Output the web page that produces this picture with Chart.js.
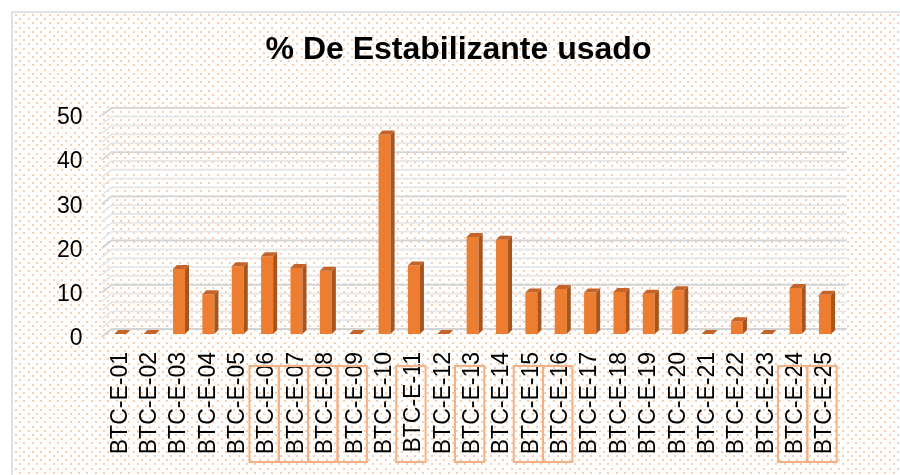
<!DOCTYPE html>
<html>
<head>
<meta charset="utf-8">
<script src="https://cdn.jsdelivr.net/npm/chart.js@4.4.0/dist/chart.umd.min.js"></script>
<style>
  html, body { margin: 0; padding: 0; background: #fff; }
</style>
</head>
<body>
<canvas id="stabChart" width="900" height="475"></canvas>
<script>
const labels = [
  'BTC-E-01', 'BTC-E-02', 'BTC-E-03', 'BTC-E-04', 'BTC-E-05',
  'BTC-E-06', 'BTC-E-07', 'BTC-E-08', 'BTC-E-09', 'BTC-E-10',
  'BTC-E-11', 'BTC-E-12', 'BTC-E-13', 'BTC-E-14', 'BTC-E-15',
  'BTC-E-16', 'BTC-E-17', 'BTC-E-18', 'BTC-E-19', 'BTC-E-20',
  'BTC-E-21', 'BTC-E-22', 'BTC-E-23', 'BTC-E-24', 'BTC-E-25'
];
const stabilizer = [
  0, 0, 14.7, 9.0, 15.3,
  17.6, 14.9, 14.3, 0, 45.1,
  15.5, 0, 21.9, 21.3, 9.4,
  10.2, 9.4, 9.5, 9.1, 9.9,
  0, 2.9, 0, 10.4, 8.9
];
const yTicks = [0, 10, 20, 30, 40, 50];
// samples boxed under the axis
const marked = [
  'BTC-E-06', 'BTC-E-07', 'BTC-E-08', 'BTC-E-09', 'BTC-E-11',
  'BTC-E-13', 'BTC-E-15', 'BTC-E-16', 'BTC-E-24', 'BTC-E-25'
];

Chart.defaults.font.family = "'Liberation Sans', Arial, sans-serif";

// dotted pattern fill + thin frame
const dottedBg = {
  id: 'dottedBg',
  beforeDraw(chart) {
    const { ctx, width, height } = chart;
    ctx.save();
    ctx.fillStyle = '#fff';
    ctx.fillRect(0, 0, width, height);
    ctx.fillStyle = '#F9CFB2';
    let row = 0;
    for (let y = 15; y < height; y += 4.2, row++) {
      for (let x = 16 + (row % 2) * 4.2; x < width; x += 8.4) {
        ctx.fillRect(Math.round(x) - 1, Math.round(y) - 1, 2, 2);
      }
    }
    ctx.strokeStyle = '#D9D9D9';
    ctx.lineWidth = 1.5;
    ctx.beginPath();
    ctx.moveTo(12, height + 2);
    ctx.lineTo(12, 12);
    ctx.lineTo(width + 2, 12);
    ctx.stroke();
    ctx.restore();
  }
};

// back-wall grid with the slanted side edge
const wallGrid = {
  id: 'wallGrid',
  beforeDatasetsDraw(chart) {
    const { ctx, chartArea: a, scales: { y } } = chart;
    ctx.save();
    y.ticks.forEach(t => {
      const py = y.getPixelForValue(t.value);
      const major = t.value % 10 === 0;
      ctx.strokeStyle = major ? '#D4D4D4' : '#E7E7E7';
      ctx.lineWidth = major ? 1.8 : 1.8;
      ctx.beginPath();
      ctx.moveTo(a.left - 4, py + 3);
      ctx.lineTo(a.left + 6, py - 5);
      ctx.lineTo(a.right + 7, py - 5);
      ctx.stroke();
    });
    ctx.restore();
  }
};

// side and top faces for the columns
const columnDepth = {
  id: 'columnDepth',
  afterDatasetsDraw(chart) {
    const { ctx } = chart;
    const dx = 4, dy = 4;
    ctx.save();
    chart.getDatasetMeta(0).data.forEach(bar => {
      const { x, y, base, width } = bar.getProps(['x', 'y', 'base', 'width'], true);
      const l = x - width / 2, r = x + width / 2;
      ctx.fillStyle = '#A9541D';
      ctx.beginPath();
      ctx.moveTo(r, y);
      ctx.lineTo(r + dx, y - dy);
      ctx.lineTo(r + dx, base - dy);
      ctx.lineTo(r, base);
      ctx.closePath();
      ctx.fill();
      ctx.fillStyle = '#C4642A';
      ctx.beginPath();
      ctx.moveTo(l, y);
      ctx.lineTo(l + dx, y - dy);
      ctx.lineTo(r + dx, y - dy);
      ctx.lineTo(r, y);
      ctx.closePath();
      ctx.fill();
    });
    ctx.restore();
  }
};

// orange boxes around the flagged sample labels
const labelBoxes = {
  id: 'labelBoxes',
  afterDraw(chart) {
    const { ctx, chartArea: a, scales: { x } } = chart;
    const band = (a.right - a.left) / labels.length;
    ctx.save();
    ctx.strokeStyle = '#F4B183';
    ctx.lineWidth = 2;
    marked.forEach(name => {
      const cx = x.getPixelForValue(labels.indexOf(name)) - 3;
      ctx.strokeRect(cx - band / 2, a.bottom + 32, band, 96);
    });
    ctx.restore();
  }
};

const ctx = document.getElementById('stabChart').getContext('2d');

new Chart(ctx, {
  type: 'bar',
  data: {
    labels: labels,
    datasets: [{
      label: '% De Estabilizante usado',
      data: stabilizer,
      backgroundColor: '#ED7D31',
      borderWidth: 0,
      categoryPercentage: 1,
      barPercentage: 0.41
    }]
  },
  options: {
    responsive: false,
    animation: false,
    layout: { padding: { left: 17, right: 0, top: 20, bottom: 0 } },
    plugins: {
      legend: { display: false },
      tooltip: { enabled: false },
      title: {
        display: true,
        text: '% De Estabilizante usado',
        color: '#000',
        font: { size: 32, weight: 'bold', lineHeight: 1.15 },
        padding: { top: 12, bottom: 44 }
      }
    },
    scales: {
      x: {
        grid: { display: false, drawTicks: false },
        border: { display: false },
        ticks: {
          color: '#000',
          font: { size: 23 },
          autoSkip: false,
          minRotation: 90,
          maxRotation: 90,
          padding: 18
        },
        afterFit: scale => { scale.height = 141; }
      },
      y: {
        min: 0,
        max: 50,
        grid: { display: false, drawTicks: false },
        border: { display: false },
        ticks: {
          stepSize: 2,
          autoSkip: false,
          color: '#000',
          font: { size: 23 },
          padding: 23,
          labelOffset: 5,
          callback: v => yTicks.includes(v) ? v : ''
        },
        afterFit: scale => { scale.width = 88.6; }
      },
      // empty right-hand strip, keeps the plot narrower than the frame
      side: {
        position: 'right',
        display: true,
        grid: { display: false, drawTicks: false },
        border: { display: false },
        ticks: { display: false },
        afterFit: scale => { scale.width = 60.3; }
      }
    }
  },
  plugins: [dottedBg, wallGrid, columnDepth, labelBoxes]
});
</script>
</body>
</html>
